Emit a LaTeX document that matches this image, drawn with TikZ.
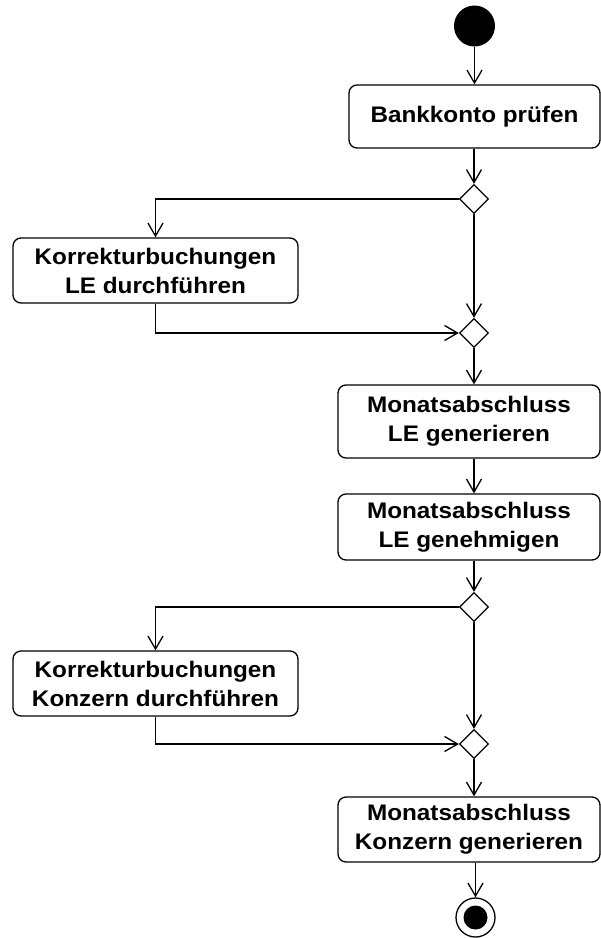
\documentclass[tikz,border=0pt]{standalone}
\usepackage{fontspec}
\setmainfont{Liberation Sans}[FakeStretch=1.08]
\usetikzlibrary{arrows.meta, positioning, shapes.geometric}

\begin{document}
\begin{tikzpicture}[
    x=1pt, y=1pt,
    action/.style={draw, rounded corners=8pt, line width=1.3pt, align=center,
                   font=\fontsize{22.5}{29}\selectfont\bfseries, inner sep=0pt},
    branch/.style={draw, diamond, aspect=1, minimum size=29pt, inner sep=0pt, line width=1.3pt},
    flow/.style={-{Straight Barb[length=13pt, width=15pt]}, line width=1.3pt},
    wire/.style={line width=1.3pt}
]
  \useasboundingbox (0,0) rectangle (601,-938);

  \node[circle, fill=black, minimum size=41pt, inner sep=0pt] (start) at (474.5,-26) {};
  \node[action, minimum width=251pt, minimum height=63pt] (konto) at (474.5,-116.5) {Bankkonto prüfen};
  \node[branch] (split1) at (474,-199) {};
  \node[action, minimum width=285pt, minimum height=65pt] (korrLE) at (155.5,-270.5) {Korrekturbuchungen\\LE durchführen};
  \node[branch] (merge1) at (474,-333) {};
  \node[action, minimum width=262pt, minimum height=73pt] (genLE) at (469,-421.5) {Monatsabschluss\\LE generieren};
  \node[action, minimum width=262pt, minimum height=66pt] (okLE) at (469,-527) {Monatsabschluss\\LE genehmigen};
  \node[branch] (split2) at (474,-607) {};
  \node[action, minimum width=285pt, minimum height=65pt] (korrKZ) at (155.5,-683.5) {Korrekturbuchungen\\Konzern durchführen};
  \node[branch] (merge2) at (474,-744) {};
  \node[action, minimum width=262pt, minimum height=65pt] (genKZ) at (469,-829.5) {Monatsabschluss\\Konzern generieren};
  \node[circle, draw, line width=1.3pt, minimum size=39pt, inner sep=0pt] (stop) at (475.5,-917.5) {};
  \node[circle, fill=black, minimum size=24pt, inner sep=0pt] (stopdot) at (stop) {};

  \draw[flow] (start) -- (start |- konto.north);
  \draw[flow] (split1 |- konto.south) -- (split1.north);
  \draw[flow] (split1.west) -| (korrLE.north);
  \draw[flow] (split1.south) -- (merge1.north);
  \draw[flow] (korrLE.south) |- (merge1.west);
  \draw[flow] (merge1.south) -- (merge1 |- genLE.north);
  \draw[flow] (split2 |- genLE.south) -- (split2 |- okLE.north);
  \draw[flow] (split2 |- okLE.south) -- (split2.north);
  \draw[flow] (split2.west) -| (korrKZ.north);
  \draw[flow] (split2.south) -- (merge2.north);
  \draw[flow] (korrKZ.south) |- (merge2.west);
  \draw[flow] (merge2.south) -- (merge2 |- genKZ.north);
  \draw[flow] (stop |- genKZ.south) -- (stop.north);
\end{tikzpicture}
\end{document}
